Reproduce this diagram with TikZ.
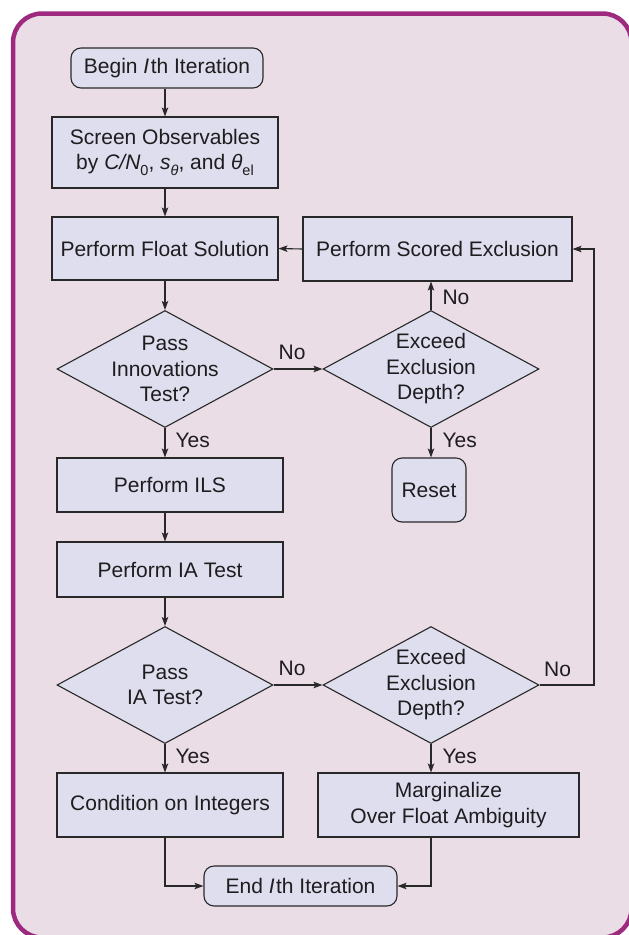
\documentclass[tikz,border=0pt]{standalone}
\usepackage{fontspec}
\setmainfont{Liberation Sans}
\usetikzlibrary{shapes.geometric,arrows.meta,calc}
\definecolor{framec}{RGB}{158,42,128}
\definecolor{bgc}{RGB}{234,221,230}
\definecolor{nodec}{RGB}{222,222,238}
\definecolor{linec}{RGB}{40,40,40}
\definecolor{textc}{RGB}{30,28,30}
\newcommand\lsub[1]{\raisebox{-0.3em}{\fontsize{14.5}{15}\selectfont #1}}
\begin{document}
\begin{tikzpicture}[x=1pt,y=-1pt,
  txt/.style={font=\fontsize{21}{25.5}\selectfont, text=textc},
  box/.style={txt, draw=linec, fill=nodec, line width=1.1pt, inner sep=0pt, align=center},
  term/.style={box, rounded corners=10pt},
  dia/.style={draw=linec, fill=nodec, line width=1.1pt, diamond, inner sep=0pt, minimum width=216pt, minimum height=117pt},
  dtext/.style={txt, align=center, inner sep=0pt},
  arr/.style={draw=linec, line width=1.1pt, -{Stealth[length=9pt,width=6.5pt,inset=2pt]}},
  lbl/.style={txt, inner sep=0pt}]
\useasboundingbox (0,0) rectangle (629,935);
\draw[framec, line width=4.5pt, fill=bgc, rounded corners=29pt] (13,13.5) rectangle (631.5,937.5);

\node[term, minimum width=192pt, minimum height=40pt] (begin) at (167,68) {Begin \textit{I}\kern1.5pt th Iteration};
\node[box, minimum width=226pt, minimum height=71pt] (screen) at (165,152.5) {Screen Observables\\by \textit{C/N}\lsub{0}, \textit{s}\lsub{\textit{θ}}, and \textit{θ}\lsub{el}};
\node[box, minimum width=226pt, minimum height=63pt] (float) at (165,248.5) {Perform Float Solution};
\node[box, minimum width=269pt, minimum height=64pt] (scored) at (437.5,249) {Perform Scored Exclusion};
\node[dia] (d1) at (165,369) {};
\node[dtext] (d1t) at (d1.center) {Pass\\Innovations\\Test?};
\node[dia] (d2) at (431,369) {};
\node[dtext] (d2t) at (d2.center) {Exceed\\Exclusion\\Depth?};
\node[term, minimum width=74pt, minimum height=64pt] (reset) at (429,490) {Reset};
\node[box, minimum width=226pt, minimum height=54pt] (ils) at (170,485) {Perform ILS};
\node[box, minimum width=226pt, minimum height=55pt] (iat) at (170,569.5) {Perform IA Test};
\node[dia] (d3) at (165,685) {};
\node[dtext] (d3t) at (d3.center) {Pass\\IA Test?};
\node[dia] (d4) at (431,685) {};
\node[dtext] (d4t) at (d4.center) {Exceed\\Exclusion\\Depth?};
\node[box, minimum width=226pt, minimum height=64pt] (cond) at (170,805) {Condition on Integers};
\node[box, minimum width=261pt, minimum height=64pt] (marg) at (448.5,805) {Marginalize\\Over Float Ambiguity};
\node[term, minimum width=193pt, minimum height=40pt] (end) at (300.5,886) {End \textit{I}\kern1.5pt th Iteration};
\coordinate (loopx) at (594,0);

\draw[arr] (begin.south -| screen.north) -- (screen.north);
\draw[arr] (screen.south) -- (float.north);
\draw[arr] (float.south) -- (d1.north);
\draw[arr] (scored.west) -- (float.east);
\draw[arr] (d1.east) -- node[lbl, pos=.38, anchor=base, yshift=10pt] {No} (d2.west);
\draw[arr] (d2.north) -- node[lbl, pos=.2, anchor=base west, xshift=11pt] {No} (d2.north |- scored.south);
\draw[arr] (d2.south) -- node[lbl, pos=.667, anchor=base west, xshift=11pt] {Yes} (d2.south |- reset.north);
\draw[arr] (d1.south) -- node[lbl, pos=.667, anchor=base west, xshift=10pt] {Yes} (d1.south |- ils.north);
\draw[arr] (d1.south |- ils.south) -- (d1.south |- iat.north);
\draw[arr] (d1.south |- iat.south) -- (d3.north);
\draw[arr] (d3.east) -- node[lbl, pos=.38, anchor=base, yshift=10pt] {No} (d4.west);
\draw[arr] (d4.east) -- node[lbl, pos=.33, anchor=base, yshift=9pt] {No} (d4.east -| loopx) |- (scored.east);
\draw[arr] (d3.south) -- node[lbl, pos=.69, anchor=base west, xshift=10pt] {Yes} (d3.south |- cond.north);
\draw[arr] (d4.south) -- node[lbl, pos=.69, anchor=base west, xshift=11pt] {Yes} (d4.south |- marg.north);
\draw[arr] (d3.south |- cond.south) |- (end.west);
\draw[arr] (d4.south |- marg.south) |- (end.east);
\end{tikzpicture}
\end{document}
